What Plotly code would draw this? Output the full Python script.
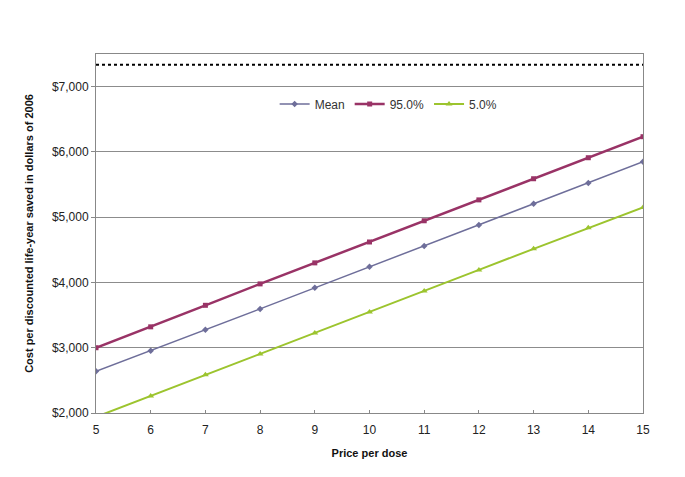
import plotly.graph_objects as go

price = [5, 6, 7, 8, 9, 10, 11, 12, 13, 14, 15]
mean = [2640, 2955, 3275, 3595, 3917, 4239, 4560, 4880, 5205, 5525, 5850]
p95 = [3000, 3320, 3650, 3978, 4300, 4620, 4945, 5265, 5589, 5911, 6233]
p05 = [1940, 2260, 2585, 2905, 3227, 3549, 3870, 4192, 4515, 4837, 5150]
threshold = 7335
y_ticks = [2000, 3000, 4000, 5000, 6000, 7000]
y_labels = ['$2,000', '$3,000', '$4,000', '$5,000', '$6,000', '$7,000']

fig = go.Figure()
fig.add_trace(go.Scatter(x=price, y=mean, name='Mean', mode='lines+markers',
                         line=dict(color='#6E6E9A', width=1.5),
                         marker=dict(symbol='diamond', size=5, color='#6E6E9A')))
fig.add_trace(go.Scatter(x=price, y=p95, name='95.0%', mode='lines+markers',
                         line=dict(color='#993366', width=2.5),
                         marker=dict(symbol='square', size=5, color='#993366')))
fig.add_trace(go.Scatter(x=price, y=p05, name='5.0%', mode='lines+markers',
                         line=dict(color='#9CC42E', width=2),
                         marker=dict(symbol='triangle-up', size=6, color='#9CC42E')))
# dotted reference line at the top
fig.add_trace(go.Scatter(x=[price[0], price[-1]], y=[threshold, threshold],
                         mode='lines', showlegend=False, hoverinfo='skip',
                         line=dict(color='black', width=2, dash='dot')))

# page body adds an 8px offset, margins compensate for it
fig.update_layout(
    width=685, height=477,
    margin=dict(l=88, r=50, t=46, b=72),
    paper_bgcolor='white', plot_bgcolor='white',
    font=dict(family='Liberation Sans, Arial, sans-serif', size=12, color='#222'),
    showlegend=True,
    legend=dict(orientation='h', x=0.535, xanchor='center', y=0.861, yanchor='middle',
                bgcolor='rgba(0,0,0,0)', itemwidth=30, font=dict(size=12, color='#333')),
    xaxis=dict(range=[5, 15], dtick=1, showgrid=False, zeroline=False,
               showline=True, linecolor='#888', linewidth=1, mirror=True,
               ticks='inside', ticklen=3, tickcolor='#888', ticklabelstandoff=6,
               title=dict(text='<b>Price per dose</b>', font=dict(size=11, color='#111'), standoff=12)),
    yaxis=dict(range=[2000, 7500], tickvals=y_ticks, ticktext=y_labels,
               showgrid=True, gridcolor='#8C8C8C', gridwidth=1, zeroline=False,
               showline=True, linecolor='#888', linewidth=1, mirror=True,
               ticks='outside', ticklen=4, tickcolor='#888',
               title=dict(text='<b>Cost per discounted life-year saved in dollars of 2006</b>',
                          font=dict(size=11, color='#111'), standoff=16)),
)

fig.write_html("out.html")
